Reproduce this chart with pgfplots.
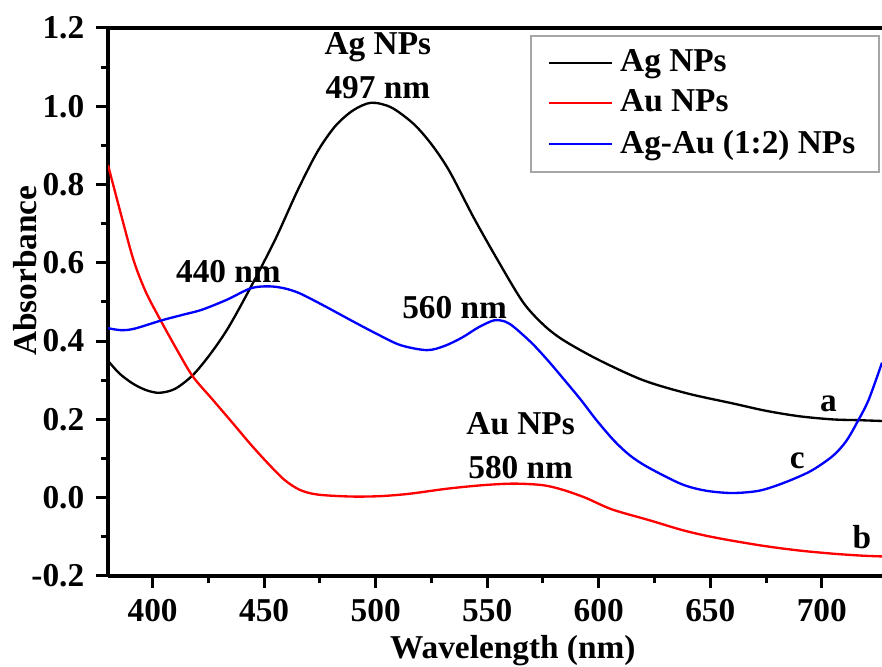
\documentclass[border=0pt]{standalone}
\usepackage{fontspec}
\setmainfont{Liberation Serif}
\usepackage{pgfplots}
\pgfplotsset{compat=1.18}

\begin{document}
\begin{tikzpicture}
\begin{axis}[
  name=ax,
  scale only axis,
  width=232.2pt, height=164.4pt,
  xmin=380, xmax=727, ymin=-0.2, ymax=1.2,
  axis x line=box, axis y line=left,
  axis line style={-, line width=1pt},
  xtick={400,450,500,550,600,650,700},
  ytick={-0.2,0,0.2,0.4,0.6,0.8,1.0,1.2},
  minor x tick num=1, minor y tick num=1,
  xtick pos=left, ytick pos=left,
  tick align=outside,
  major tick length=3.6pt, minor tick length=2.2pt,
  every tick/.style={black, line width=0.9pt},
  tick label style={font=\bfseries},
  /pgf/number format/assume math mode=true,
  yticklabel style={/pgf/number format/.cd, fixed, fixed zerofill, precision=1},
  xticklabel style={/pgf/number format/.cd, 1000 sep={}},
  xlabel={\bfseries Wavelength (nm)},
  ylabel={\bfseries Absorbance},
  xlabel style={at={(axis description cs:0.523,-0.137)}, anchor=center},
  ylabel style={at={(axis description cs:-0.107,0.557)}, anchor=center},
  legend style={at={(axis description cs:0.997,0.987)}, anchor=north east,
    draw=gray!70, line width=0.6pt, font=\bfseries,
    inner xsep=5pt, inner ysep=2pt, row sep=0pt},
  legend cell align=left,
  legend image code/.code={\draw[#1] (0pt,0pt) -- (19pt,0pt);},
]
% a: Ag NPs
\addplot[black, line width=0.7pt, smooth] coordinates {
 (380,0.35)(385,0.318)(391,0.292)(397,0.275)(403,0.268)(410,0.278)(418,0.313)
 (426,0.368)(434,0.435)(444,0.538)(455,0.66)(465,0.785)(474,0.885)(482,0.95)
 (490,0.99)(498,1.009)(507,0.997)(517,0.955)(525,0.903)(533,0.835)(544,0.715)
 (555,0.604)(566,0.5)(575,0.443)(584,0.403)(600,0.352)(620,0.30)(640,0.266)
 (660,0.241)(675,0.222)(690,0.208)(705,0.2)(717,0.198)(727,0.196)};
% b: Au NPs
\addplot[red, line width=0.7pt, smooth] coordinates {
 (380,0.85)(386,0.72)(391.5,0.606)(397,0.525)(403.6,0.453)(411,0.377)(418,0.31)
 (427,0.25)(436,0.19)(444,0.136)(451.5,0.089)(459,0.046)(466,0.02)(474,0.008)
 (489,0.003)(502,0.004)(515,0.01)(532,0.023)(548,0.032)(562,0.036)(575,0.032)
 (584,0.02)(594,0.0)(606,-0.03)(623,-0.058)(637,-0.082)(648,-0.097)(660,-0.11)
 (675,-0.124)(690,-0.135)(705,-0.143)(718,-0.148)(727,-0.15)};
% c: Ag-Au (1:2) NPs
\addplot[blue, line width=0.7pt, smooth] coordinates {
 (380,0.433)(386,0.428)(392,0.432)(404,0.453)(414,0.468)(422,0.48)(433,0.505)
 (444,0.535)(452,0.54)(459,0.535)(466,0.522)(477,0.49)(489,0.453)(500,0.42)
 (511,0.39)(523,0.377)(531,0.388)(539,0.41)(546,0.435)(553,0.453)(558,0.45)
 (562,0.436)(570,0.395)(577,0.352)(584,0.305)(592,0.25)(599,0.198)(607,0.145)
 (614,0.108)(622,0.078)(637,0.035)(648,0.018)(660,0.012)(672,0.018)(683,0.038)
 (695,0.068)(705,0.107)(711,0.145)(716,0.194)(721,0.25)(727,0.345)};
\legend{Ag NPs, Au NPs, Ag-Au (1:2) NPs}
\node[font=\bfseries] at (axis cs:501,1.151) {Ag NPs};
\node[font=\bfseries] at (axis cs:501,1.047) {497 nm};
\node[font=\bfseries] at (axis cs:434,0.577) {440 nm};
\node[font=\bfseries] at (axis cs:535.4,0.487) {560 nm};
\node[font=\bfseries] at (axis cs:565,0.188) {Au NPs};
\node[font=\bfseries] at (axis cs:565,0.078) {580 nm};
\node[font=\bfseries] at (axis cs:703,0.24) {a};
\node[font=\bfseries] at (axis cs:718,-0.1) {b};
\node[font=\bfseries] at (axis cs:689,0.095) {c};
\end{axis}
\pgfresetboundingbox
\path[use as bounding box] ([xshift=-32.4pt,yshift=-27.3pt]ax.south west) rectangle ([yshift=8.4pt]ax.north east);
\end{tikzpicture}
\end{document}
